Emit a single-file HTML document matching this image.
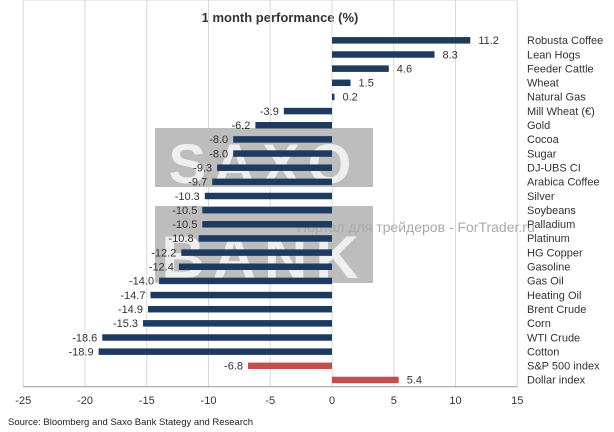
<!DOCTYPE html>
<html><head><meta charset="utf-8"><style>body{margin:0;background:#fff}svg{display:block}</style></head><body>
<svg width="614" height="432" xmlns="http://www.w3.org/2000/svg" font-family="Liberation Sans, DejaVu Sans, sans-serif">
<rect width="614" height="432" fill="#fff"/>
<text x="280" y="22" text-anchor="middle" font-size="13" font-weight="bold" fill="#333">1 month performance (%)</text>
<g id="grid" stroke="#d8d8d8" stroke-width="1"></g>
<g id="wm"></g>
<g id="bars"></g>
<g id="lab" font-size="11" fill="#333"></g>
<text x="8" y="425" font-size="9.5" fill="#222">Source: Bloomberg and Saxo Bank Stategy and Research</text>
<script>
var d=[["Robusta Coffee",11.2],["Lean Hogs",8.3],["Feeder Cattle",4.6],["Wheat",1.5],["Natural Gas",0.2],["Mill Wheat (€)",-3.9],["Gold",-6.2],["Cocoa",-8.0],["Sugar",-8.0],["DJ-UBS CI",-9.3],["Arabica Coffee",-9.7],["Silver",-10.3],["Soybeans",-10.5],["Palladium",-10.5],["Platinum",-10.8],["HG Copper",-12.2],["Gasoline",-12.4],["Gas Oil",-14.0],["Heating Oil",-14.7],["Brent Crude",-14.9],["Corn",-15.3],["WTI Crude",-18.6],["Cotton",-18.9],["S&P 500 index",-6.8],["Dollar index",5.4]];
var NS="http://www.w3.org/2000/svg",z=332,s=12.35,y0=40.1,dy=14.15,L=z-25*s,R=z+15*s,top=y0-dy/2,bot=y0+24*dy+dy/2;
function el(p,t,a,tx){var e=document.createElementNS(NS,t);for(var k in a)e.setAttribute(k,a[k]);if(tx!=null)e.textContent=tx;document.getElementById(p).appendChild(e);return e;}
for(var i=0;i<=25;i++){var y=top+i*dy;el("grid","line",{x1:L,x2:R,y1:y,y2:y});}
for(var v=-25;v<=15;v+=5){var x=z+v*s;el("grid","line",{x1:x,x2:x,y1:top,y2:bot});el("lab","text",{x:x,y:404,"text-anchor":"middle"},String(v));}
el("grid","line",{x1:L,x2:R,y1:bot,y2:bot,stroke:"#999"});
el("wm","rect",{x:155,y:128,width:218,height:59,fill:"#bdbdbd"});
el("wm","rect",{x:155,y:206,width:218,height:77,fill:"#bdbdbd"});
el("wm","text",{x:264,y:183,"text-anchor":"middle","font-size":56,"font-weight":"bold",fill:"#efefef","letter-spacing":"8"},"SAXO");
el("wm","text",{x:264,y:278,"text-anchor":"middle","font-size":60,"font-weight":"bold",fill:"#efefef","letter-spacing":"8"},"BANK");
el("wm","text",{x:297,y:232,"font-size":14,fill:"#aaa"},"Портал для трейдеров - ForTrader.ru");
d.forEach(function(r,i){var y=y0+i*dy,v=r[1],w=Math.abs(v)*s,c=i>=23?"#c0504d":"#1f3a5f";
var x=v<0?z-w:z;el("bars","rect",{x:x,y:y-3,width:Math.max(w,2),height:6.5,fill:c});
var t=v.toFixed(1);
if(v<0)el("lab","text",{x:z-w-5,y:y+4,"text-anchor":"end"},t);else el("lab","text",{x:z+Math.max(w,2)+8,y:y+4},t);
el("lab","text",{x:527,y:y+4},r[0]);});
</script>
</svg>
</body></html>
